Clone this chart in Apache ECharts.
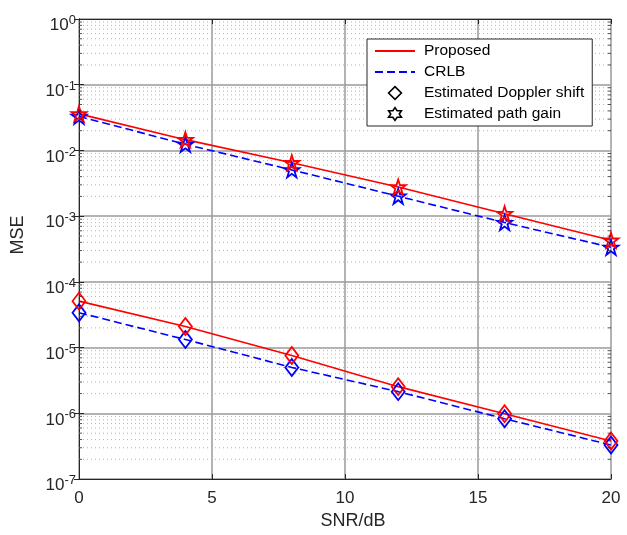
<!DOCTYPE html>
<html><head><meta charset="utf-8">
<script src="https://cdn.jsdelivr.net/npm/echarts@6/dist/echarts.min.js"></script>
<style>html,body{margin:0;padding:0;background:#fff}#c{width:627px;height:535px}</style>
</head><body><div id="c"></div>
<script>
// ---- data ----
const snr = [0, 4, 8, 12, 16, 20];
const gainProposed = [0.036, 0.0146, 0.0065, 0.00278, 0.00109, 0.00043];
const gainCRLB = [0.033, 0.0124, 0.00506, 0.00201, 0.0008, 0.000336];
const dopplerProposed = [5.1e-5, 2.1e-5, 7.6e-6, 2.55e-6, 9.9e-7, 3.8e-7];
const dopplerCRLB = [3.4e-5, 1.33e-5, 5.0e-6, 2.14e-6, 8.3e-7, 3.3e-7];
const xTicks = [0, 5, 10, 15, 20];
const yDecadeExps = [-7, -6, -5, -4, -3, -2, -1, 0];
const minorMultipliers = [2, 3, 4, 5, 6, 7, 8, 9];
const legendNames = ['Proposed', 'CRLB', 'Estimated Doppler shift', 'Estimated path gain'];

// ---- helpers ----
function starPath(n, rIn) {
  const pts = [];
  for (let i = 0; i < 2 * n; i++) {
    const r = i % 2 ? rIn : 1;
    const a = -Math.PI / 2 + i * Math.PI / n;
    pts.push((r * Math.cos(a)).toFixed(4) + ',' + (r * Math.sin(a)).toFixed(4));
  }
  return 'path://M' + pts.join('L') + 'Z';
}
const pentagram = starPath(5, 0.382);
const hexagram = starPath(6, 0.577);

const minorVals = [];
yDecadeExps.slice(0, -1).forEach(e => minorMultipliers.forEach(m => minorVals.push(m * Math.pow(10, e))));
const xMin = xTicks[0], xMax = xTicks[xTicks.length - 1];
// horizontal minor grid segments, separated by empty points
const minorGridData = [];
minorVals.forEach(v => { minorGridData.push([xMin, v], [xMax, v], [xMax, '-']); });

const pairs = arr => snr.map((x, i) => [x, arr[i]]);
const txt = '#262626';
const font = 'Liberation Sans, Arial, Helvetica, sans-serif';
const RED = '#ff0000', BLUE = '#0000ff';

function dataSeries(name, arr, color, dashed, symbol, size) {
  return {
    name: name, type: 'line', data: pairs(arr), z: 3,
    symbol: symbol, symbolSize: size, symbolKeepAspect: false, showSymbol: true,
    lineStyle: { color: color, width: 1.6, type: dashed ? [8, 4] : 'solid' },
    itemStyle: { color: 'rgba(0,0,0,0)', borderColor: color, borderWidth: 1.8 },
    silent: true, animation: false
  };
}

const chart = echarts.init(document.getElementById('c'));
const yLabelFmt = v => {
  const e = Math.round(Math.log10(v));
  return '{b|10}{s|' + e + '}';
};
chart.setOption({
  backgroundColor: '#fff',
  animation: false,
  grid: { left: 79, top: 19, right: 16, bottom: 51, containLabel: false },
  legend: {
    orient: 'vertical', left: 367, top: 39,
    padding: [4, 8, 4, 7], itemGap: 5, itemWidth: 40, itemHeight: 16,
    backgroundColor: '#fff', borderColor: txt, borderWidth: 1, borderRadius: 0,
    selectedMode: false,
    textStyle: { fontSize: 15.5, fontFamily: font, color: '#000', lineHeight: 16, padding: [0, 0, 0, 4] },
    data: [
      { name: legendNames[0], itemStyle: { opacity: 0 } },
      { name: legendNames[1], itemStyle: { opacity: 0 } },
      { name: legendNames[2], lineStyle: { opacity: 0 }, itemStyle: { borderWidth: 1.6 } },
      { name: legendNames[3], lineStyle: { opacity: 0 }, itemStyle: { borderWidth: 1.6 } }
    ]
  },
  xAxis: [{
    type: 'value', min: xMin, max: xMax, interval: 5,
    name: 'SNR/dB', nameLocation: 'middle', nameGap: 30,
    nameTextStyle: { fontSize: 18, fontFamily: font, color: txt, padding: [0, 0, 0, 16] },
    axisLine: { show: true, lineStyle: { color: txt, width: 1 } },
    axisTick: { show: true, inside: true, length: 5, lineStyle: { color: txt } },
    axisLabel: { fontSize: 17, fontFamily: font, color: txt, margin: 11,
      formatter: v => xTicks.indexOf(v) >= 0 ? String(v) : '' },
    splitLine: { show: true, lineStyle: { color: '#9a9a9a', width: 1.5 } }
  }, {
    type: 'value', min: xMin, max: xMax, interval: 5, position: 'top',
    axisLine: { show: true, lineStyle: { color: txt, width: 1 } },
    axisTick: { show: true, inside: true, length: 5, lineStyle: { color: txt } },
    axisLabel: { show: false }, splitLine: { show: false }
  }],
  yAxis: [{
    type: 'log', logBase: 10, min: 1e-7, max: 1, splitNumber: 7,
    name: 'MSE', nameLocation: 'middle', nameGap: 52,
    nameTextStyle: { fontSize: 18, fontFamily: font, color: txt, padding: [0, 0, 0, 28] },
    axisLine: { show: true, lineStyle: { color: txt, width: 1 } },
    axisTick: { show: true, inside: true, length: 5, lineStyle: { color: txt } },
    axisLabel: {
      margin: 3, formatter: yLabelFmt, padding: [10, 0, 0, 0],
      rich: {
        b: { fontSize: 17, fontFamily: font, color: txt, lineHeight: 20, verticalAlign: 'bottom' },
        s: { fontSize: 13, fontFamily: font, color: txt, lineHeight: 20, verticalAlign: 'top' }
      }
    },
    splitLine: { show: true, lineStyle: { color: '#9a9a9a', width: 1.5 } }
  }, {
    type: 'log', logBase: 10, min: 1e-7, max: 1, splitNumber: 7, position: 'right',
    axisLine: { show: true, lineStyle: { color: txt, width: 1 } },
    axisTick: { show: true, inside: true, length: 5, lineStyle: { color: txt } },
    axisLabel: { show: false }, splitLine: { show: false }
  }],
  series: [
    {
      name: 'minor-grid', type: 'line', data: minorGridData, silent: true, animation: false,
      symbol: 'none', connectNulls: false, z: 1,
      lineStyle: { color: '#b4b4b4', type: [1, 3], width: 1 }
    },
    {
      name: 'minor-ticks-left', type: 'scatter', data: minorVals.map(v => [xMin, v]),
      symbol: 'rect', symbolSize: [3, 1], symbolOffset: [1.5, 0], clip: false, silent: true,
      itemStyle: { color: txt }, z: 4, animation: false
    },
    {
      name: 'minor-ticks-right', type: 'scatter', data: minorVals.map(v => [xMax, v]),
      symbol: 'rect', symbolSize: [3, 1], symbolOffset: [-1.5, 0], clip: false, silent: true,
      itemStyle: { color: txt }, z: 4, animation: false
    },
    dataSeries('CRLB path gain', gainCRLB, BLUE, true, pentagram, 15),
    dataSeries('CRLB Doppler shift', dopplerCRLB, BLUE, true, 'diamond', [13, 17]),
    dataSeries('Proposed path gain', gainProposed, RED, false, pentagram, 15),
    dataSeries('Proposed Doppler shift', dopplerProposed, RED, false, 'diamond', [13, 17]),
    { name: legendNames[0], type: 'line', data: [], symbol: 'none',
      itemStyle: { color: RED }, lineStyle: { color: RED, width: 1.5 } },
    { name: legendNames[1], type: 'line', data: [], symbol: 'none',
      itemStyle: { color: BLUE }, lineStyle: { color: BLUE, width: 1.5, type: [8, 4] } },
    { name: legendNames[2], type: 'line', data: [], symbol: 'diamond',
      itemStyle: { color: 'rgba(0,0,0,0)', borderColor: '#000', borderWidth: 1.6 },
      lineStyle: { opacity: 0 } },
    { name: legendNames[3], type: 'line', data: [], symbol: hexagram,
      itemStyle: { color: 'rgba(0,0,0,0)', borderColor: '#000', borderWidth: 1.6 },
      lineStyle: { opacity: 0 } }
  ]
});
</script></body></html>
